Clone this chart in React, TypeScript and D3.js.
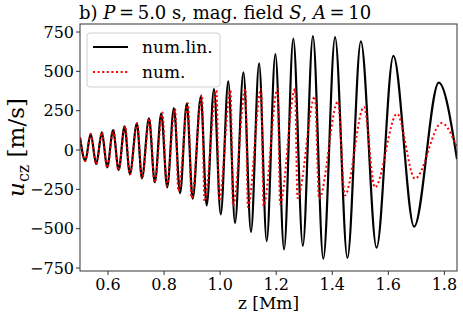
import * as d3 from "d3";

// num.lin. extrema
const numLinZ = [
  0.5, 0.519, 0.538, 0.558, 0.578, 0.597, 0.618, 0.638, 0.659, 0.678, 0.703,
  0.721, 0.746, 0.767, 0.79, 0.811, 0.835, 0.857, 0.881, 0.902, 0.931, 0.952,
  0.978, 1.002, 1.029, 1.053, 1.083, 1.11, 1.139, 1.166, 1.197, 1.228, 1.261,
  1.295, 1.331, 1.368, 1.41, 1.454, 1.502, 1.558, 1.618, 1.692, 1.78, 1.845,
];
const numLinU = [
  80, -68, 102, -89, 112, -110, 127, -127, 150, -153, 170, -180, 201, -205,
  233, -237, 267, -275, 297, -309, 339, -352, 387, -409, 436, -463, 493, -521,
  551, -579, 609, -632, 708, -609, 724, -691, 718, -685, 690, -620, 598, -487,
  429, -58,
];

// num. (nonlinear) extrema
const numZ = [
  0.5, 0.519, 0.538, 0.558, 0.578, 0.597, 0.619, 0.637, 0.661, 0.678, 0.704,
  0.721, 0.748, 0.766, 0.794, 0.809, 0.839, 0.851, 0.885, 0.898, 0.935, 0.944,
  0.987, 0.996, 1.037, 1.046, 1.09, 1.099, 1.146, 1.155, 1.205, 1.214, 1.267,
  1.276, 1.338, 1.353, 1.42, 1.445, 1.513, 1.552, 1.631, 1.695, 1.79, 1.845,
];
const numU = [
  78, -70, 100, -90, 112, -112, 127, -128, 150, -155, 170, -182, 200, -208,
  238, -228, 262, -262, 298, -305, 350, -325, 380, -320, 378, -354, 388, -362,
  388, -354, 388, -343, 388, -305, 340, -310, 308, -288, 274, -238, 230, -182,
  171, 18,
];

const xTicks = [0.6, 0.8, 1.0, 1.2, 1.4, 1.6, 1.8];
const yTicks = [-750, -500, -250, 0, 250, 500, 750];

const W = 463;
const H = 316;
const margin = { top: 24, right: 6, bottom: 45, left: 80 };
const font = "'DejaVu Serif', 'Liberation Serif', serif";

export default function App() {
  const x = d3
    .scaleLinear()
    .domain([0.5, 1.845])
    .range([margin.left, W - margin.right]);
  const y = d3
    .scaleLinear()
    .domain([-769, 801])
    .range([H - margin.bottom, margin.top]);

  const line = d3
    .line<[number, number]>()
    .x((d) => x(d[0]))
    .y((d) => y(d[1]))
    .curve(d3.curveMonotoneX);

  const linPts = numLinZ.map((z, i) => [z, numLinU[i]] as [number, number]);
  const numPts = numZ.map((z, i) => [z, numU[i]] as [number, number]);

  const [x0, x1] = x.range();
  const [yb, yt] = y.range();

  return (
    <svg
      width={W}
      height={H}
      style={{ position: "absolute", left: 0, top: 0, background: "#fff", fontFamily: font }}
    >
      <defs>
        <clipPath id="plot">
          <rect x={x0} y={yt} width={x1 - x0} height={yb - yt} />
        </clipPath>
      </defs>

      <g clipPath="url(#plot)">
        <path d={line(linPts) ?? ""} fill="none" stroke="#000" strokeWidth={2.2} />
        <path
          d={line(numPts) ?? ""}
          fill="none"
          stroke="#ff0000"
          strokeWidth={2}
          strokeDasharray="2,2.6"
        />
      </g>

      {/* spines */}
      <rect
        x={x0}
        y={yt}
        width={x1 - x0}
        height={yb - yt}
        fill="none"
        stroke="#333"
        strokeWidth={1}
      />

      {/* x ticks */}
      {xTicks.map((t) => (
        <g key={t}>
          <line x1={x(t)} x2={x(t)} y1={yb} y2={yb + 4} stroke="#333" />
          <text x={x(t)} y={yb + 19} fontSize={16} textAnchor="middle">
            {t.toFixed(1)}
          </text>
        </g>
      ))}

      {/* y ticks */}
      {yTicks.map((t) => (
        <g key={t}>
          <line x1={x0 - 4} x2={x0} y1={y(t)} y2={y(t)} stroke="#333" />
          <text
            x={x0 - 6}
            y={y(t)}
            dy="0.36em"
            fontSize={16}
            textAnchor="end"
          >
            {t < 0 ? "\u2212" + Math.abs(t) : t}
          </text>
        </g>
      ))}

      {/* labels */}
      <text x={(x0 + x1) / 2} y={309} fontSize={17} textAnchor="middle">
        z [Mm]
      </text>
      <text
        transform={`translate(24,${(yt + yb) / 2}) rotate(-90)`}
        fontSize={23}
        textAnchor="middle"
      >
        <tspan fontStyle="italic">u</tspan>
        <tspan fontSize={16} dy={5}>
          cz
        </tspan>
        <tspan dy={-5}> [m/s]</tspan>
      </text>
      <text x={x0 - 1} y={19} fontSize={18}>
        b) <tspan fontStyle="italic">P</tspan>
        {"\u2009=\u20095.0 s, mag. field "}
        <tspan fontStyle="italic">S</tspan>
        {", "}
        <tspan fontStyle="italic">A</tspan>
        {"\u2009=\u200910"}
      </text>

      {/* legend */}
      <g>
        <rect
          x={87}
          y={33}
          width={133}
          height={54}
          rx={3}
          fill="#fff"
          fillOpacity={0.8}
          stroke="#d0d0d0"
        />
        <line x1={93} x2={128} y1={47} y2={47} stroke="#000" strokeWidth={2.2} />
        <text x={142} y={47} dy="0.36em" fontSize={17}>
          num.lin.
        </text>
        <line
          x1={93}
          x2={128}
          y1={72}
          y2={72}
          stroke="#ff0000"
          strokeWidth={2}
          strokeDasharray="2,2.6"
        />
        <text x={142} y={72} dy="0.36em" fontSize={17}>
          num.
        </text>
      </g>
    </svg>
  );
}
